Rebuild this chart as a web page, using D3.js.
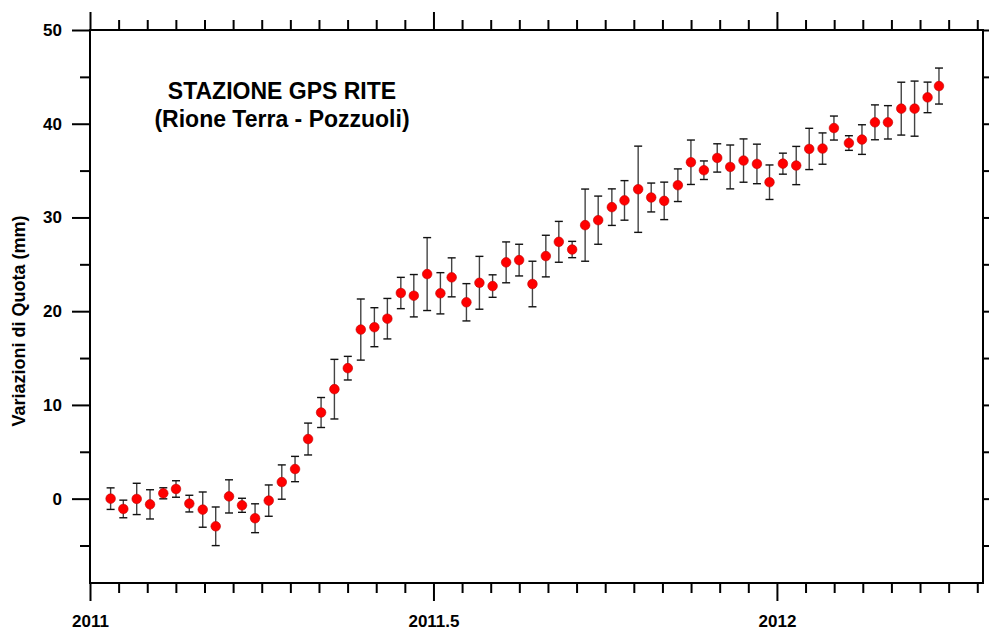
<!DOCTYPE html>
<html>
<head>
<meta charset="utf-8">
<script src="https://cdn.jsdelivr.net/npm/d3@7"></script>
<style>
  html, body { margin: 0; padding: 0; background: #fff; }
  svg { display: block; font-family: "Liberation Sans", Arial, sans-serif; }
</style>
</head>
<body>
<svg id="chart" width="989" height="631"></svg>
<script>
// ---- data ----
const dates = [2011.030, 2011.0485, 2011.068, 2011.0874, 2011.1067, 2011.1252, 2011.1446, 2011.1641, 2011.1830, 2011.2024,
  2011.2213, 2011.2403, 2011.2602, 2011.2792, 2011.2985, 2011.3175, 2011.3364, 2011.3558, 2011.3753, 2011.3942,
  2011.4140, 2011.4329, 2011.4525, 2011.4714, 2011.4908, 2011.5101, 2011.5265, 2011.5480, 2011.5669, 2011.5861,
  2011.6058, 2011.6247, 2011.6441, 2011.6636, 2011.6825, 2011.7019, 2011.7208, 2011.7398, 2011.7597, 2011.7781,
  2011.7980, 2011.8170, 2011.8359, 2011.8558, 2011.8748, 2011.8937, 2011.9131, 2011.9320, 2011.9514, 2011.9709,
  2011.9892, 2012.0087, 2012.0281, 2012.0470, 2012.0664, 2012.0830, 2012.1048, 2012.1238, 2012.1427, 2012.1616,
  2012.1810, 2012.2004, 2012.2193, 2012.2359];
const values = [0.0, -1.10, -0.03, -0.61, 0.57, 1.03, -0.53, -1.17, -2.95, 0.24,
  -0.71, -2.09, -0.21, 1.77, 3.16, 6.36, 9.19, 11.68, 13.92, 18.04,
  18.29, 19.20, 21.94, 21.65, 23.96, 21.91, 23.61, 20.95, 23.03, 22.68,
  25.21, 25.45, 22.90, 25.88, 27.40, 26.58, 29.18, 29.71, 31.10, 31.82,
  33.01, 32.13, 31.77, 33.44, 35.89, 35.04, 36.35, 35.39, 36.07, 35.71,
  33.76, 35.74, 35.54, 37.31, 37.35, 39.54, 37.94, 38.31, 40.15, 40.15,
  41.61, 41.61, 42.81, 44.02];
const errors = [1.15, 0.94, 1.67, 1.56, 0.59, 0.88, 0.89, 1.88, 2.06, 1.77,
  0.75, 1.54, 1.67, 1.83, 1.35, 1.70, 1.60, 3.18, 1.26, 3.26,
  2.08, 2.16, 1.67, 2.26, 3.89, 2.20, 2.08, 1.99, 2.82, 1.20,
  2.18, 1.69, 2.43, 2.22, 2.18, 0.87, 3.85, 2.57, 1.95, 2.11,
  4.6, 1.54, 2.00, 1.74, 2.37, 0.99, 1.51, 2.34, 2.31, 2.11,
  1.84, 1.12, 2.04, 2.20, 1.67, 1.28, 0.78, 1.58, 1.86, 1.78,
  2.82, 2.94, 1.63, 1.92];
const xMajorTicks = [2011, 2011.5, 2012];
const xTickLabels = ["2011", "2011.5", "2012"];
const yMajorTicks = [0, 10, 20, 30, 40, 50];
const yMinorTicks = [-5, 5, 15, 25, 35, 45];
const titleLines = ["STAZIONE GPS RITE", "(Rione Terra - Pozzuoli)"];
const yTitle = "Variazioni di Quota (mm)";

// ---- layout ----
const L = 90, R = 983, T = 30, B = 583;
const svg = d3.select("#chart");
const x = d3.scaleLinear().domain([2011, 2012.3]).range([L, R]);
const y = d3.scaleLinear().domain([-9, 50]).range([B, T]);

const xMinorTicks = d3.range(0, 32).map(i => 2011 + i / 24).filter(v => v <= 2012.3 && !xMajorTicks.some(m => Math.abs(m - v) < 1e-6));

function styleAxis(g) {
  g.select(".domain").remove();
  g.selectAll(".tick line").attr("stroke", "#000").attr("stroke-width", 2);
}

// bottom axis
svg.append("g").attr("transform", `translate(0,${B})`)
  .call(d3.axisBottom(x).tickValues(xMinorTicks).tickSize(10).tickFormat(""))
  .call(styleAxis);
const bx = svg.append("g").attr("transform", `translate(0,${B})`)
  .call(d3.axisBottom(x).tickValues(xMajorTicks).tickSize(18).tickPadding(13.9)
    .tickFormat((d, i) => xTickLabels[i]))
  .call(styleAxis);
bx.selectAll("text").attr("font-size", 17).attr("font-weight", "bold").attr("fill", "#000")
  .attr("font-family", "Liberation Sans, Arial, sans-serif");

// top axis
svg.append("g").attr("transform", `translate(0,${T})`)
  .call(d3.axisTop(x).tickValues(xMinorTicks).tickSize(10).tickFormat(""))
  .call(styleAxis);
svg.append("g").attr("transform", `translate(0,${T})`)
  .call(d3.axisTop(x).tickValues(xMajorTicks).tickSize(18).tickFormat(""))
  .call(styleAxis);

// left axis
svg.append("g").attr("transform", `translate(${L},0)`)
  .call(d3.axisLeft(y).tickValues(yMinorTicks).tickSize(10).tickFormat(""))
  .call(styleAxis);
const ly = svg.append("g").attr("transform", `translate(${L},0)`)
  .call(d3.axisLeft(y).tickValues(yMajorTicks).tickSize(18).tickPadding(10).tickFormat(d3.format("d")))
  .call(styleAxis);
ly.selectAll("text").attr("font-size", 17).attr("font-weight", "bold").attr("fill", "#000")
  .attr("font-family", "Liberation Sans, Arial, sans-serif");

// right axis
svg.append("g").attr("transform", `translate(${R},0)`)
  .call(d3.axisRight(y).tickValues(yMinorTicks).tickSize(10).tickFormat(""))
  .call(styleAxis);
svg.append("g").attr("transform", `translate(${R},0)`)
  .call(d3.axisRight(y).tickValues(yMajorTicks).tickSize(18).tickFormat(""))
  .call(styleAxis);

// frame
svg.append("rect").attr("x", L).attr("y", T).attr("width", R - L).attr("height", B - T)
  .attr("fill", "none").attr("stroke", "#000").attr("stroke-width", 2);

// data
const data = dates.map((d, i) => ({ t: d, v: values[i], e: errors[i] }));
const capW = 4;
const eg = svg.append("g").attr("class", "errorbars");
const bars = eg.selectAll("g").data(data).join("g");
bars.append("line")
  .attr("x1", d => x(d.t)).attr("x2", d => x(d.t))
  .attr("y1", d => y(d.v + d.e)).attr("y2", d => y(d.v - d.e))
  .attr("stroke", "#444").attr("stroke-width", 1.4);
bars.append("line")
  .attr("x1", d => x(d.t) - capW).attr("x2", d => x(d.t) + capW)
  .attr("y1", d => y(d.v + d.e)).attr("y2", d => y(d.v + d.e))
  .attr("stroke", "#111").attr("stroke-width", 1.4);
bars.append("line")
  .attr("x1", d => x(d.t) - capW).attr("x2", d => x(d.t) + capW)
  .attr("y1", d => y(d.v - d.e)).attr("y2", d => y(d.v - d.e))
  .attr("stroke", "#111").attr("stroke-width", 1.4);

svg.append("g").selectAll("circle").data(data).join("circle")
  .attr("cx", d => x(d.t)).attr("cy", d => y(d.v)).attr("r", 4.8)
  .attr("fill", "#ff0000").attr("stroke", "#c00000").attr("stroke-width", 0.6);

// titles
svg.append("text").attr("x", 282).attr("y", 99).attr("text-anchor", "middle")
  .attr("font-size", 23).attr("font-weight", "bold").text(titleLines[0]);
svg.append("text").attr("x", 282).attr("y", 126.5).attr("text-anchor", "middle")
  .attr("font-size", 23).attr("font-weight", "bold").text(titleLines[1]);

svg.append("text").attr("transform", "translate(25,321) rotate(-90)").attr("text-anchor", "middle")
  .attr("font-size", 18).attr("font-weight", "bold").text(yTitle);
</script>
</body>
</html>
